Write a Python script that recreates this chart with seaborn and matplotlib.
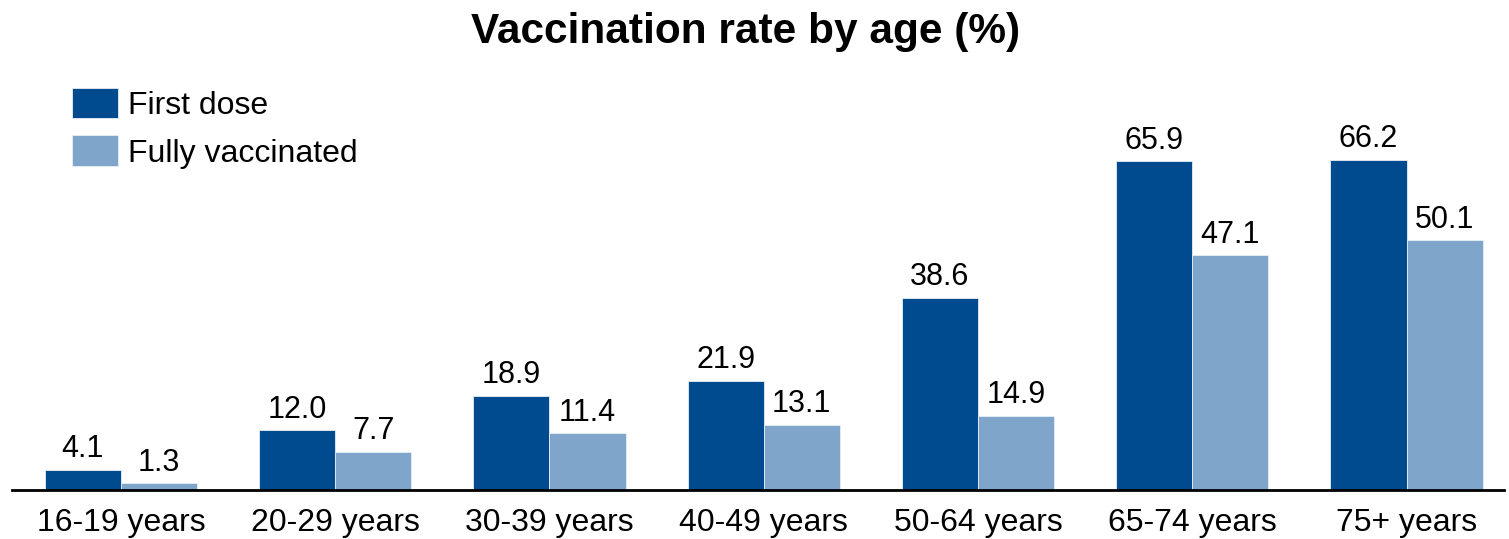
import matplotlib
matplotlib.use('Agg')
import matplotlib.pyplot as plt
import seaborn as sns
import pandas as pd

# data
ages = ['16-19 years', '20-29 years', '30-39 years', '40-49 years',
        '50-64 years', '65-74 years', '75+ years']
first_dose = [4.1, 12.0, 18.9, 21.9, 38.6, 65.9, 66.2]
fully_vacc = [1.3, 7.7, 11.4, 13.1, 14.9, 47.1, 50.1]
series = ['First dose', 'Fully vaccinated']
colors = ['#004A8F', '#80A5CA']

df = pd.DataFrame({
    'age': ages * 2,
    'rate': first_dose + fully_vacc,
    'dose': [series[0]] * len(ages) + [series[1]] * len(ages),
})

sns.set_style('white')
plt.rcParams['font.family'] = ['Liberation Sans', 'DejaVu Sans']
plt.rcParams['text.color'] = 'black'
plt.rcParams['xtick.color'] = 'black'

fig = plt.figure(figsize=(15.09, 5.39), dpi=100)
ax = fig.add_axes([0.008, 0.091, 0.989, 0.80])

sns.barplot(data=df, x='age', y='rate', hue='dose', order=ages,
            hue_order=series, palette=colors, saturation=1, width=0.71,
            edgecolor='#e8eef5', linewidth=0.6, ax=ax)

# value labels
for cont in ax.containers:
    ax.bar_label(cont, fmt='%.1f', padding=4, fontsize=22, color='black')

ax.set_ylim(0, 86.5)
ax.set_xlim(-0.508, 6.457)
ax.set_xlabel('')
ax.set_ylabel('')
ax.set_yticks([])
ax.tick_params(axis='x', length=0, labelsize=23, pad=13, labelcolor='black')
for s in ['top', 'right', 'left']:
    ax.spines[s].set_visible(False)
ax.spines['bottom'].set_color('black')
ax.spines['bottom'].set_linewidth(2)

ax.legend(loc='upper left', bbox_to_anchor=(0.021, 1.0), frameon=False,
          fontsize=23, handlelength=1.44, handleheight=1.115,
          labelspacing=0.45, handletextpad=0.3)

fig.suptitle('Vaccination rate by age (%)', fontsize=30.5, fontweight='bold',
             x=0.494, y=0.978, color='black')

fig.savefig('out.png', dpi=100)
